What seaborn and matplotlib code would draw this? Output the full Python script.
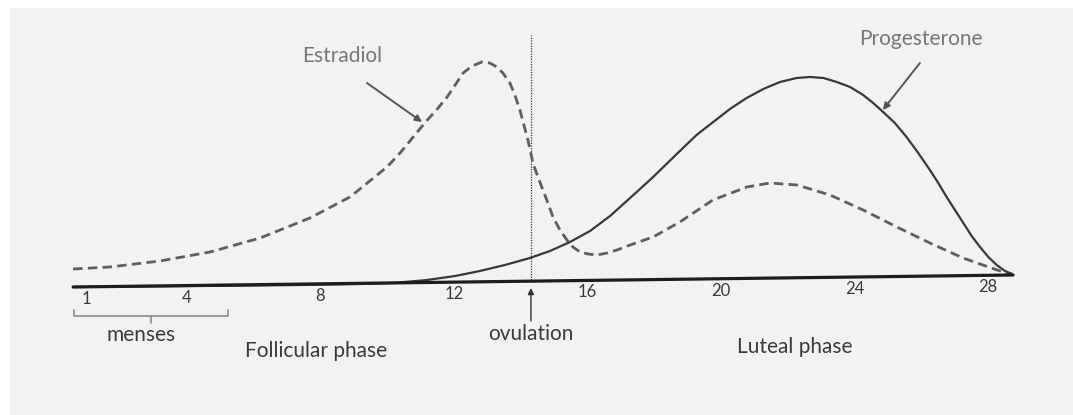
import matplotlib
matplotlib.use("Agg")
import matplotlib.pyplot as plt
import seaborn as sns
import pandas as pd
from matplotlib.patches import Rectangle

# ---------------- data (cycle day vs relative hormone level) ----------------
estradiol_day = [0.60, 1.70, 3.20, 4.70, 6.20, 7.69, 8.89, 10.00, 10.39, 11.08,
                 11.29, 11.53, 11.80, 12.04, 12.28, 12.55, 12.84, 13.08, 13.29,
                 13.47, 13.68, 13.83, 13.98, 14.10, 14.22, 14.37, 14.52, 14.67,
                 14.82, 14.97, 15.18, 15.39, 15.57, 15.78, 16.02, 16.29, 16.59,
                 16.89, 17.28, 17.97, 18.77, 19.76, 20.78, 21.47, 22.28, 23.27,
                 24.26, 25.27, 26.26, 27.25, 28.27, 28.72]
estradiol_level = [18, 20, 26, 35, 49, 69, 90, 120, 134, 162,
                   170, 179, 190, 202, 214, 221, 225, 224, 220,
                   214, 204, 192, 177, 162, 147, 124, 110, 97,
                   84, 70, 57, 47, 40, 35, 33, 32, 34,
                   37, 42, 50, 65, 87, 100, 104, 102, 92,
                   77, 60, 44, 29, 17, 13]

progesterone_day = [0.60, 4.40, 7.39, 9.19, 10.18, 11.20, 12.04, 12.78, 13.53,
                    14.28, 14.88, 15.48, 16.08, 16.68, 17.28, 17.97, 18.77,
                    19.27, 19.77, 20.27, 20.77, 21.27, 21.77, 22.27, 22.67,
                    23.07, 23.47, 23.87, 24.26, 24.56, 24.86, 25.21, 25.56,
                    25.91, 26.26, 26.51, 26.76, 27.01, 27.26, 27.51, 27.76,
                    28.01, 28.26, 28.51, 28.71]
progesterone_level = [0, 1, 2, 3, 4, 7, 11, 16, 22,
                      29, 36, 45, 56, 71, 89, 110, 136,
                      152, 165, 178, 189, 198, 205, 209, 210,
                      209, 205, 200, 192, 184, 175, 164, 150,
                      134, 117, 104, 90, 77, 64, 51, 40,
                      30, 22, 16, 13]

baseline_day = [0.60, 28.75]
baseline_level = [0, 12]

tick_days = [1, 4, 8, 12, 16, 20, 24, 28]
tick_labels = ["1", "4", "8", "12", "16", "20", "24", "28"]

ovulation_day = 14.31
menses_start, menses_end = 0.64, 5.24

# ---------------- style ----------------
sns.set_theme(style="white")
plt.rcParams["font.family"] = ["Lato", "DejaVu Sans"]

fig = plt.figure(figsize=(10.73, 4.15), dpi=100)
fig.patch.set_facecolor("white")
ax = fig.add_axes([0, 0, 1, 1])
ax.set_facecolor("none")
ax.add_patch(Rectangle((10 / 1073, 0), 1, 407 / 415, transform=ax.transAxes,
                       facecolor="#f2f2f2", edgecolor="none", zorder=-10))
ax.set_xlim(-1.591, 30.545)
ax.set_ylim(-128, 287)
ax.axis("off")


def base(d):
    return baseline_level[0] + (baseline_level[1] - baseline_level[0]) * \
        (d - baseline_day[0]) / (baseline_day[1] - baseline_day[0])


est = pd.DataFrame({"day": estradiol_day, "level": estradiol_level})
prog = pd.DataFrame({"day": progesterone_day, "level": progesterone_level})
axis_df = pd.DataFrame({"day": baseline_day, "level": baseline_level})

sns.lineplot(data=est, x="day", y="level", ax=ax, estimator=None,
             color="#5e5e5e", lw=2.0, linestyle=(0, (3.4, 1.9)), zorder=3)
sns.lineplot(data=prog, x="day", y="level", ax=ax, estimator=None,
             color="#383838", lw=1.6, zorder=4)
sns.lineplot(data=axis_df, x="day", y="level", ax=ax, estimator=None,
             color="#1c1c1c", lw=2.3, zorder=5)
ax.set_xlabel("")
ax.set_ylabel("")

# ovulation dotted line and arrow
ax.plot([ovulation_day, ovulation_day], [base(ovulation_day) + 1, 252],
        color="#333333", lw=0.9, linestyle=(0, (1, 1.1)), zorder=2)
ax.annotate("", xy=(ovulation_day, -1), xytext=(ovulation_day, -34),
            arrowprops=dict(arrowstyle="-|>", color="#333333", lw=1.0,
                            mutation_scale=9, shrinkA=0, shrinkB=0))

# tick labels along the (slightly tilted) axis
for d, lab in zip(tick_days, tick_labels):
    ax.text(d, base(d) - 12, lab, ha="center", va="center",
            fontsize=12, color="#3a3a3a")

# menses bracket
bc = "#8a8a8a"
mid = (menses_start + menses_end) / 2
ax.plot([menses_start, menses_start, menses_end, menses_end],
        [-23, -29, -29, -23], color=bc, lw=1.2, solid_joinstyle="miter")
ax.plot([mid, mid], [-29, -36], color=bc, lw=1.2)

# annotations
ax.text(8.65, 231, "Estradiol", ha="center", va="center", fontsize=15,
        color="#777777")
ax.annotate("", xy=(11.05, 165), xytext=(9.40, 204),
            arrowprops=dict(arrowstyle="-|>", color="#555555", lw=1.4,
                            mutation_scale=10, shrinkA=0, shrinkB=0))
ax.text(25.99, 248, "Progesterone", ha="center", va="center", fontsize=15,
        color="#777777")
ax.annotate("", xy=(24.85, 177), xytext=(25.96, 224),
            arrowprops=dict(arrowstyle="-|>", color="#555555", lw=1.4,
                            mutation_scale=10, shrinkA=0, shrinkB=0))

ax.text(2.63, -48, "menses", ha="center", va="center", fontsize=15,
        color="#3a3a3a")
ax.text(7.87, -64, "Follicular phase", ha="center", va="center", fontsize=15,
        color="#3a3a3a")
ax.text(ovulation_day, -47, "ovulation", ha="center", va="center",
        fontsize=15, color="#3a3a3a")
ax.text(22.22, -60, "Luteal phase", ha="center", va="center", fontsize=15,
        color="#3a3a3a")

fig.savefig("out.png", dpi=100, facecolor=fig.get_facecolor())
